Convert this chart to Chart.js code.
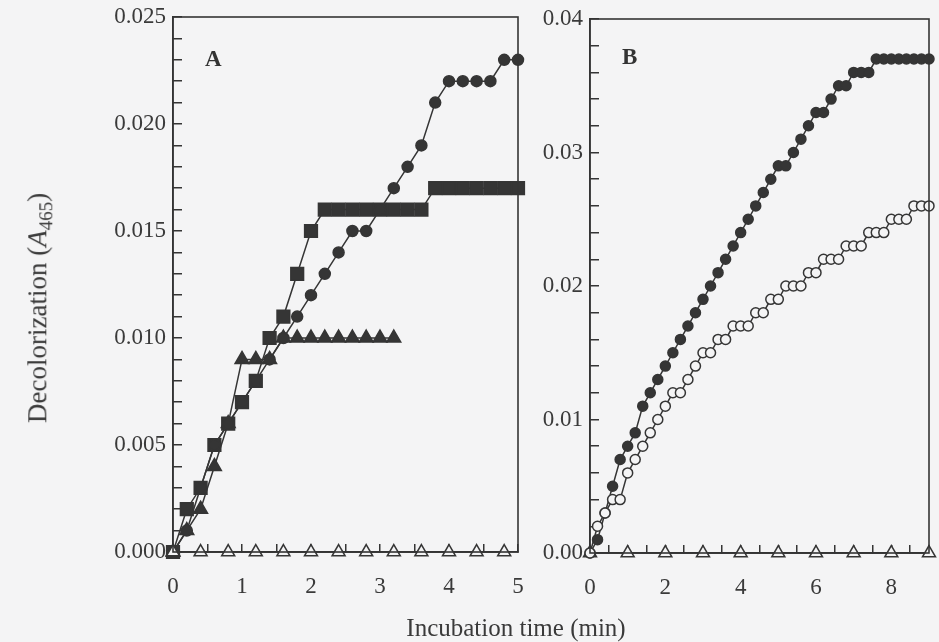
<!DOCTYPE html>
<html>
<head>
<meta charset="utf-8">
<script src="https://cdn.jsdelivr.net/npm/chart.js@4"></script>
<style>
  html, body { margin: 0; padding: 0; }
  body { width: 939px; height: 642px; background: #f4f4f5; position: relative; overflow: hidden; font-family: "Liberation Serif", "DejaVu Serif", serif; color: #3a3a3a; }
  canvas { position: absolute; top: 0; }
  #chartA { left: 0; }
  #chartB { left: 520px; }
  .panel { position: absolute; font-weight: bold; font-size: 23px; color: #333; }
  #ytitle { position: absolute; left: 40px; top: 308px; transform: translate(-50%, -50%) rotate(-90deg); font-size: 27px; white-space: nowrap; }
  #xtitle { position: absolute; left: 516px; top: 628px; transform: translate(-50%, -50%); font-size: 25px; white-space: nowrap; }
</style>
</head>
<body>
<canvas id="chartA" width="530" height="642"></canvas>
<canvas id="chartB" width="419" height="642"></canvas>
<div class="panel" style="left:205px; top:46px;">A</div>
<div class="panel" style="left:622px; top:44px;">B</div>
<div id="ytitle">Decolorization (<i>A</i><sub style="font-size:19px">465</sub>)</div>
<div id="xtitle">Incubation time (min)</div>
<script>
document.addEventListener('DOMContentLoaded', function () {
    const ink = '#353535';
    const paper = '#f4f4f5';

    // Panel A (step 0.2 min)
    const timeA = [0, 0.2, 0.4, 0.6, 0.8, 1.0, 1.2, 1.4, 1.6, 1.8, 2.0, 2.2, 2.4, 2.6, 2.8, 3.0, 3.2, 3.4, 3.6, 3.8, 4.0, 4.2, 4.4, 4.6, 4.8, 5.0];
    const circlesA = [0, 0.001, 0.003, 0.005, 0.006, 0.007, 0.008, 0.009, 0.010, 0.011, 0.012, 0.013, 0.014, 0.015, 0.015, 0.016, 0.017, 0.018, 0.019, 0.021, 0.022, 0.022, 0.022, 0.022, 0.023, 0.023];
    const squaresA = [0, 0.002, 0.003, 0.005, 0.006, 0.007, 0.008, 0.010, 0.011, 0.013, 0.015, 0.016, 0.016, 0.016, 0.016, 0.016, 0.016, 0.016, 0.016, 0.017, 0.017, 0.017, 0.017, 0.017, 0.017, 0.017];
    const timeTriA = [0, 0.2, 0.4, 0.6, 0.8, 1.0, 1.2, 1.4, 1.6, 1.8, 2.0, 2.2, 2.4, 2.6, 2.8, 3.0, 3.2];
    const trianglesA = [0, 0.001, 0.002, 0.004, 0.006, 0.009, 0.009, 0.009, 0.010, 0.010, 0.010, 0.010, 0.010, 0.010, 0.010, 0.010, 0.010];
    const timeOpenTriA = [0, 0.4, 0.8, 1.2, 1.6, 2.0, 2.4, 2.8, 3.2, 3.6, 4.0, 4.4, 4.8];
    const openTrianglesA = [0, 0, 0, 0, 0, 0, 0, 0, 0, 0, 0, 0, 0];

    // Panel B (step 0.2 min)
    const timeB = [0, 0.2, 0.4, 0.6, 0.8, 1.0, 1.2, 1.4, 1.6, 1.8, 2.0, 2.2, 2.4, 2.6, 2.8, 3.0, 3.2, 3.4, 3.6, 3.8, 4.0, 4.2, 4.4, 4.6, 4.8, 5.0, 5.2, 5.4, 5.6, 5.8, 6.0, 6.2, 6.4, 6.6, 6.8, 7.0, 7.2, 7.4, 7.6, 7.8, 8.0, 8.2, 8.4, 8.6, 8.8, 9.0];
    const filledB = [0, 0.001, 0.003, 0.005, 0.007, 0.008, 0.009, 0.011, 0.012, 0.013, 0.014, 0.015, 0.016, 0.017, 0.018, 0.019, 0.020, 0.021, 0.022, 0.023, 0.024, 0.025, 0.026, 0.027, 0.028, 0.029, 0.029, 0.030, 0.031, 0.032, 0.033, 0.033, 0.034, 0.035, 0.035, 0.036, 0.036, 0.036, 0.037, 0.037, 0.037, 0.037, 0.037, 0.037, 0.037, 0.037];
    const openB = [0, 0.002, 0.003, 0.004, 0.004, 0.006, 0.007, 0.008, 0.009, 0.010, 0.011, 0.012, 0.012, 0.013, 0.014, 0.015, 0.015, 0.016, 0.016, 0.017, 0.017, 0.017, 0.018, 0.018, 0.019, 0.019, 0.020, 0.020, 0.020, 0.021, 0.021, 0.022, 0.022, 0.022, 0.023, 0.023, 0.023, 0.024, 0.024, 0.024, 0.025, 0.025, 0.025, 0.026, 0.026, 0.026];
    const timeOpenTriB = [0, 1, 2, 3, 4, 5, 6, 7, 8, 9];
    const openTrianglesB = [0, 0, 0, 0, 0, 0, 0, 0, 0, 0];

    const xLabelsA = [0, 1, 2, 3, 4, 5];
    const xLabelsB = [0, 2, 4, 6, 8];

    function pts(xs, ys) {
        return xs.map((x, i) => ({ x: x, y: ys[i] }));
    }

    function series(data, style, radius, filled) {
        return {
            data: data,
            borderColor: ink,
            borderWidth: 1.5,
            pointStyle: style,
            pointRadius: radius,
            pointBorderColor: ink,
            pointBorderWidth: 1.5,
            pointBackgroundColor: filled ? ink : paper,
            showLine: true,
            clip: false
        };
    }

    // box round each panel
    const frame = {
        id: 'frame',
        afterDatasetsDraw(chart) {
            const a = chart.chartArea;
            const ctx = chart.ctx;
            ctx.save();
            ctx.strokeStyle = ink;
            ctx.lineWidth = 1.6;
            ctx.strokeRect(a.left, a.top, a.right - a.left, a.bottom - a.top);
            ctx.restore();
        }
    };

    function makeChart(id, datasets, opts) {
        return new Chart(document.getElementById(id), {
            type: 'scatter',
            data: { datasets: datasets },
            plugins: [frame],
            options: {
                responsive: false,
                animation: false,
                events: [],
                layout: { padding: { top: opts.top, right: opts.right, left: 0, bottom: 0 } },
                plugins: { legend: { display: false }, tooltip: { enabled: false } },
                scales: {
                    x: {
                        type: 'linear',
                        min: opts.xMin,
                        max: opts.xMax,
                        afterFit: s => {
                            s.height = opts.xHeight;
                            s.paddingLeft = 0;
                            s.paddingRight = 0;
                        },
                        afterBuildTicks: s => {
                            const t = [];
                            for (let v = opts.xMin; v <= opts.xMax + 1e-9; v += 0.5) t.push({ value: Math.round(v * 10) / 10 });
                            s.ticks = t;
                        },
                        grid: { drawOnChartArea: false, tickLength: -8, color: ink, lineWidth: 1.5 },
                        border: { color: ink, width: 1.6 },
                        ticks: {
                            autoSkip: false,
                            maxRotation: 0,
                            padding: 29,
                            color: '#3a3a3a',
                            font: { family: 'Liberation Serif', size: 23 },
                            callback: v => opts.xLabels.includes(v) ? String(v) : ''
                        }
                    },
                    y: {
                        min: 0,
                        max: opts.yMax,
                        afterFit: s => {
                            s.width = opts.yWidth;
                            s.paddingTop = 0;
                            s.paddingBottom = 0;
                        },
                        afterBuildTicks: s => {
                            const t = [];
                            const n = Math.round(opts.yMax / opts.yMinor);
                            for (let i = 0; i <= n; i++) t.push({ value: i * opts.yMinor });
                            s.ticks = t;
                        },
                        grid: { drawOnChartArea: false, tickLength: -9, color: ink, lineWidth: 1.5 },
                        border: { color: ink, width: 1.6 },
                        ticks: {
                            autoSkip: false,
                            padding: 16,
                            color: '#3a3a3a',
                            font: { family: 'Liberation Serif', size: 23 },
                            callback: (v, i) => (i % opts.yEvery === 0) ? v.toFixed(opts.yDigits) : ''
                        }
                    }
                }
            }
        });
    }

    makeChart('chartA', [
        series(pts(timeOpenTriA, openTrianglesA), 'triangle', 7.5, false),
        series(pts(timeA, circlesA), 'circle', 5.5, true),
        series(pts(timeA, squaresA), 'rect', 9, true),
        series(pts(timeTriA, trianglesA), 'triangle', 8, true)
    ], { top: 17, right: 12, xMin: 0, xMax: 5, xHeight: 642 - 552, yWidth: 173, yMax: 0.025, yMinor: 0.001, yEvery: 5, yDigits: 3, xLabels: xLabelsA });

    makeChart('chartB', [
        series(pts(timeB, openB), 'circle', 5, false),
        series(pts(timeB, filledB), 'circle', 5, true),
        series(pts(timeOpenTriB, openTrianglesB), 'triangle', 7.5, false)
    ], { top: 19, right: 10, xMin: 0, xMax: 9, xHeight: 642 - 553, yWidth: 70, yMax: 0.04, yMinor: 0.002, yEvery: 5, yDigits: 2, xLabels: xLabelsB });
});
</script>
</body>
</html>
